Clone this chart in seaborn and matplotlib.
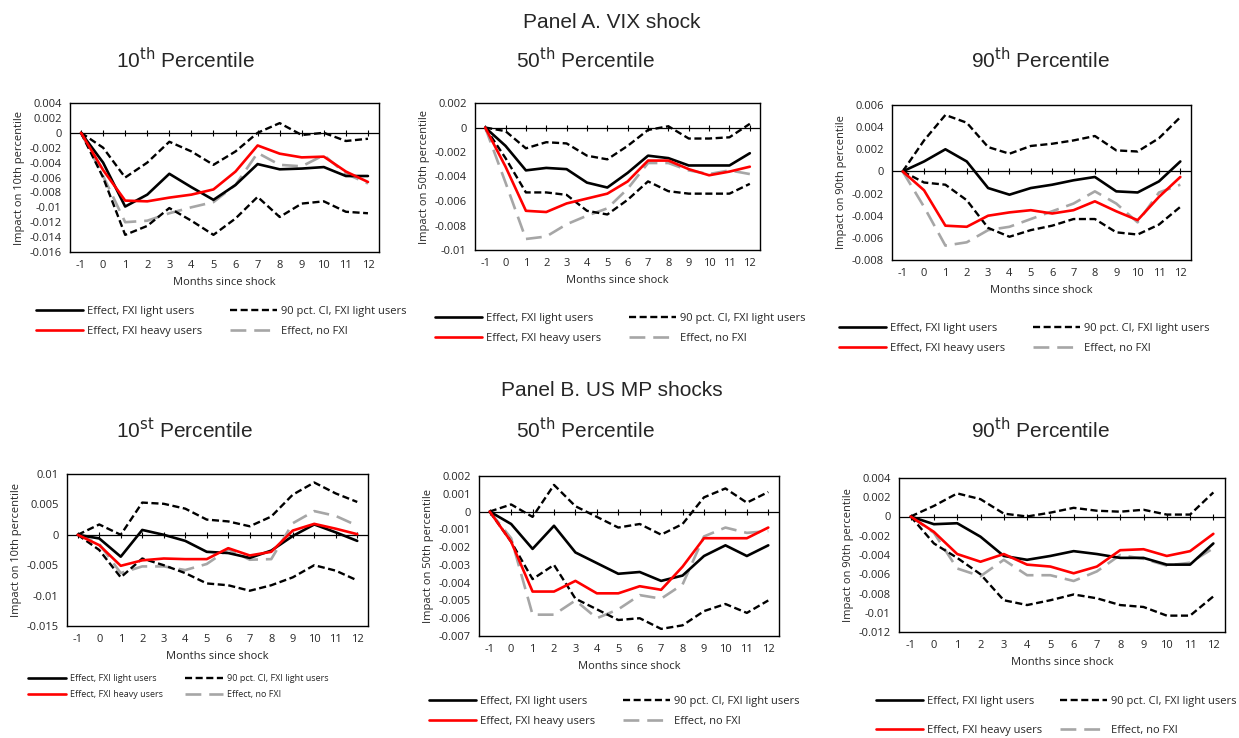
import numpy as np
import pandas as pd
import matplotlib
matplotlib.use("Agg")
import matplotlib.pyplot as plt
import seaborn as sns
from matplotlib.lines import Line2D

months = list(range(-1, 13))

# Panel A. VIX shock
a10_light = [0, -0.004, -0.0099, -0.0083, -0.0055, -0.0073, -0.009, -0.007, -0.0042, -0.0049, -0.0048, -0.0046, -0.0058, -0.0058]
a10_ci_up = [0, -0.002, -0.006, -0.004, -0.0012, -0.0025, -0.0043, -0.0025, 0, 0.0013, -0.0003, 0, -0.0011, -0.0008]
a10_ci_lo = [0, -0.006, -0.0137, -0.0125, -0.0101, -0.0118, -0.0137, -0.0115, -0.0086, -0.0113, -0.0095, -0.0092, -0.0106, -0.0108]
a10_heavy = [0, -0.005, -0.0091, -0.0092, -0.0087, -0.0083, -0.0076, -0.0052, -0.0017, -0.0028, -0.0033, -0.0032, -0.0052, -0.0066]
a10_nofxi = [0, -0.0058, -0.012, -0.0118, -0.0108, -0.01, -0.0093, -0.007, -0.0027, -0.0043, -0.0045, -0.003, -0.0055, -0.0068]

a50_light = [0, -0.0015, -0.0035, -0.0033, -0.0034, -0.0045, -0.0049, -0.0037, -0.0023, -0.0025, -0.0031, -0.0031, -0.0031, -0.0021]
a50_ci_up = [0, -0.0003, -0.0017, -0.0012, -0.0013, -0.0023, -0.0026, -0.0015, -0.0002, 0.0001, -0.0009, -0.0009, -0.0008, 0.0003]
a50_ci_lo = [0, -0.0025, -0.0053, -0.0053, -0.0055, -0.0068, -0.0071, -0.0059, -0.0044, -0.0052, -0.0054, -0.0054, -0.0054, -0.0046]
a50_heavy = [0, -0.0032, -0.0068, -0.0069, -0.0062, -0.0058, -0.0054, -0.0044, -0.0027, -0.0027, -0.0034, -0.0039, -0.0036, -0.0032]
a50_nofxi = [0, -0.0045, -0.0091, -0.0089, -0.0079, -0.0072, -0.0066, -0.005, -0.0029, -0.0029, -0.0035, -0.0038, -0.0035, -0.0038]

a90_light = [0, 0.0009, 0.002, 0.0009, -0.0015, -0.0021, -0.0015, -0.0012, -0.0008, -0.0005, -0.0018, -0.0019, -0.0009, 0.0009]
a90_ci_up = [0, 0.0028, 0.0051, 0.0044, 0.0022, 0.0016, 0.0023, 0.0025, 0.0028, 0.0032, 0.0019, 0.0018, 0.003, 0.0049]
a90_ci_lo = [0, -0.001, -0.0012, -0.0026, -0.0051, -0.0059, -0.0053, -0.0049, -0.0043, -0.0043, -0.0055, -0.0057, -0.0048, -0.0032]
a90_heavy = [0, -0.0017, -0.0049, -0.005, -0.004, -0.0037, -0.0035, -0.0038, -0.0035, -0.0027, -0.0036, -0.0044, -0.0023, -0.0005]
a90_nofxi = [0, -0.0032, -0.0067, -0.0064, -0.0053, -0.005, -0.0043, -0.0036, -0.0029, -0.0018, -0.0029, -0.0046, -0.0019, -0.0012]

# Panel B. US MP shocks
b10_light = [0, -0.0006, -0.0036, 0.0008, 0, -0.001, -0.0028, -0.003, -0.0038, -0.0026, -0.0002, 0.0017, 0.0004, -0.001]
b10_ci_up = [0, 0.0017, 0, 0.0053, 0.0051, 0.0043, 0.0025, 0.0022, 0.0014, 0.003, 0.0066, 0.0086, 0.0068, 0.0054]
b10_ci_lo = [0, -0.0025, -0.007, -0.0039, -0.005, -0.0063, -0.008, -0.0083, -0.0092, -0.0083, -0.007, -0.005, -0.0059, -0.0075]
b10_heavy = [0, -0.0017, -0.0051, -0.0042, -0.0039, -0.004, -0.004, -0.0022, -0.0034, -0.0028, 0.0007, 0.0018, 0.001, 0.0001]
b10_nofxi = [0, -0.0015, -0.0063, -0.0052, -0.0052, -0.0058, -0.0048, -0.0024, -0.0041, -0.004, 0.0019, 0.0039, 0.0031, 0.0015]

b50_light = [0, -0.0007, -0.0021, -0.0008, -0.0023, -0.0029, -0.0035, -0.0034, -0.0039, -0.0036, -0.0025, -0.0019, -0.0025, -0.0019]
b50_ci_up = [0, 0.0004, -0.0003, 0.0015, 0.0003, -0.0003, -0.0009, -0.0007, -0.0013, -0.0007, 0.0008, 0.0013, 0.0005, 0.0011]
b50_ci_lo = [0, -0.0017, -0.0038, -0.003, -0.0049, -0.0055, -0.0061, -0.006, -0.0066, -0.0064, -0.0056, -0.0052, -0.0057, -0.005]
b50_heavy = [0, -0.0017, -0.0045, -0.0045, -0.0039, -0.0046, -0.0046, -0.0042, -0.0044, -0.0031, -0.0015, -0.0015, -0.0015, -0.0009]
b50_nofxi = [0, -0.0015, -0.0058, -0.0058, -0.005, -0.006, -0.0055, -0.0047, -0.0049, -0.0041, -0.0014, -0.0009, -0.0012, -0.0011]

b90_light = [0, -0.0008, -0.0007, -0.0021, -0.0041, -0.0045, -0.0041, -0.0036, -0.0039, -0.0043, -0.0043, -0.005, -0.005, -0.0028]
b90_ci_up = [0, 0.0011, 0.0024, 0.0018, 0.0003, 0, 0.0004, 0.0009, 0.0006, 0.0005, 0.0007, 0.0002, 0.0002, 0.0025]
b90_ci_lo = [0, -0.0028, -0.0043, -0.006, -0.0087, -0.0092, -0.0087, -0.0081, -0.0085, -0.0092, -0.0094, -0.0103, -0.0103, -0.0083]
b90_heavy = [0, -0.0016, -0.0039, -0.0047, -0.0039, -0.005, -0.0052, -0.0059, -0.0052, -0.0035, -0.0034, -0.0041, -0.0036, -0.0018]
b90_nofxi = [0, -0.0017, -0.0054, -0.0062, -0.0045, -0.0061, -0.0061, -0.0067, -0.0057, -0.004, -0.0044, -0.0051, -0.0048, -0.0033]

W, H = 1239, 738
sns.set_theme(style="white")
plt.rcParams['font.family'] = ['Open Sans', 'DejaVu Sans']
plt.rcParams['axes.unicode_minus'] = False

fig = plt.figure(figsize=(W / 100, H / 100), dpi=100)

def px(x0, y0, x1, y1):
    return [x0 / W, 1 - y1 / H, (x1 - x0) / W, (y1 - y0) / H]

# data, box, ylim, yticks, ylabel, title, title pos, legend top, legend font, legend x, row gap, col gap
panels = [
    ((a10_light, a10_ci_up, a10_ci_lo, a10_heavy, a10_nofxi), (70, 103, 379, 252),
     (-0.016, 0.004), np.arange(-0.016, 0.0041, 0.002), "Impact on 10th percentile",
     r"10$^{\rm th}$ Percentile", (185, 60), 296, 8.0, 34, 0.8, 2.5),
    ((a50_light, a50_ci_up, a50_ci_lo, a50_heavy, a50_nofxi), (75, 103, 360, 250),
     (-0.01, 0.002), np.arange(-0.01, 0.0021, 0.002), "Impact on 50th percentile",
     r"50$^{\rm th}$ Percentile", (585, 60), 303, 8.0, 33, 0.8, 2.5),
    ((a90_light, a90_ci_up, a90_ci_lo, a90_heavy, a90_nofxi), (72, 105, 371, 260),
     (-0.008, 0.006), np.arange(-0.008, 0.0061, 0.002), "Impact on 90th percentile",
     r"90$^{\rm th}$ Percentile", (1040, 60), 313, 8.0, 17, 0.8, 2.5),
    ((b10_light, b10_ci_up, b10_ci_lo, b10_heavy, b10_nofxi), (67, 474, 368, 626),
     (-0.015, 0.01), np.arange(-0.015, 0.0101, 0.005), "Impact on 10th percentile",
     r"10$^{\rm st}$ Percentile", (185, 430), 666, 6.5, 28, 0.8, 2.5),
    ((b50_light, b50_ci_up, b50_ci_lo, b50_heavy, b50_nofxi), (79, 476, 379, 636),
     (-0.007, 0.002), np.arange(-0.007, 0.0021, 0.001), "Impact on 50th percentile",
     r"50$^{\rm th}$ Percentile", (585, 430), 686, 8.0, 27, 0.8, 2.5),
    ((b90_light, b90_ci_up, b90_ci_lo, b90_heavy, b90_nofxi), (79, 478, 405, 632),
     (-0.012, 0.004), np.arange(-0.012, 0.0041, 0.002), "Impact on 90th percentile",
     r"90$^{\rm th}$ Percentile", (1040, 430), 686, 8.0, 54, 1.6, 1.6),
]
col_x = [0, 400, 820]

styles = {
    "light": dict(color="black", lw=1.9, ls="-"),
    "ci_up": dict(color="black", lw=1.7, ls=(0, (3, 1.5))),
    "ci_lo": dict(color="black", lw=1.7, ls=(0, (3, 1.5))),
    "heavy": dict(color="red", lw=1.9, ls="-"),
    "nofxi": dict(color="#a6a6a6", lw=1.9, ls=(0, (6, 3))),
}

for i, (series, box, ylim, yticks, ylabel, title, tpos, ly, lfs, lx, lsp, csp) in enumerate(panels):
    off = col_x[i % 3]
    x0, y0, x1, y1 = box
    ax = fig.add_axes(px(x0 + off, y0, x1 + off, y1))
    df = pd.DataFrame({"month": months})
    for key, vals in zip(["light", "ci_up", "ci_lo", "heavy", "nofxi"], series):
        df[key] = vals
    ax.axhline(0, color="black", lw=0.9, zorder=1)
    for key in ["nofxi", "ci_up", "ci_lo", "light", "heavy"]:
        st = styles[key]
        sns.lineplot(data=df, x="month", y=key, ax=ax, color=st["color"],
                     linewidth=st["lw"], linestyle=st["ls"], zorder=3)
    ax.set_xlim(-1.5, 12.5)
    ax.set_ylim(*ylim)
    ax.set_xticks(months)
    ax.set_yticks(yticks)
    ax.set_yticklabels(["0" if abs(t) < 1e-9 else f"{t:g}" for t in yticks])
    ax.tick_params(axis="both", labelsize=8, length=0, pad=6)
    ax.set_xlabel("Months since shock", fontsize=8, labelpad=4)
    ax.set_ylabel(ylabel, fontsize=8, labelpad=3)
    for s in ax.spines.values():
        s.set_color("black")
        s.set_linewidth(1.0)
    # tick marks sitting on the zero line
    ax.plot(months, [0] * len(months), ls="none", marker="|", color="black",
            markersize=5, markeredgewidth=0.8, zorder=2)

    fig.text(tpos[0] / W, 1 - tpos[1] / H, title, fontsize=15,
             family=["Liberation Sans"], ha="center", va="center")

    handles = [
        Line2D([], [], **styles["light"]), Line2D([], [], **styles["ci_up"]),
        Line2D([], [], **styles["heavy"]), Line2D([], [], **styles["nofxi"]),
    ]
    labels = ["Effect, FXI light users", "90 pct. CI, FXI light users",
              "Effect, FXI heavy users", "Effect, no FXI"]
    order = [0, 2, 1, 3]
    fig.legend([handles[k] for k in order], [labels[k] for k in order],
               loc="upper left", bbox_to_anchor=((lx + off - 8) / W, 1 - ly / H),
               ncol=2, frameon=False, fontsize=lfs, handlelength=4.2,
               columnspacing=csp, labelspacing=lsp, handletextpad=0.4)

fig.text(612 / W, 1 - 22 / H, "Panel A. VIX shock", fontsize=15,
         family=["Liberation Sans"], ha="center", va="center")
fig.text(612 / W, 1 - 390 / H, "Panel B. US MP shocks", fontsize=15,
         family=["Liberation Sans"], ha="center", va="center")

fig.savefig("out.png", dpi=100)
